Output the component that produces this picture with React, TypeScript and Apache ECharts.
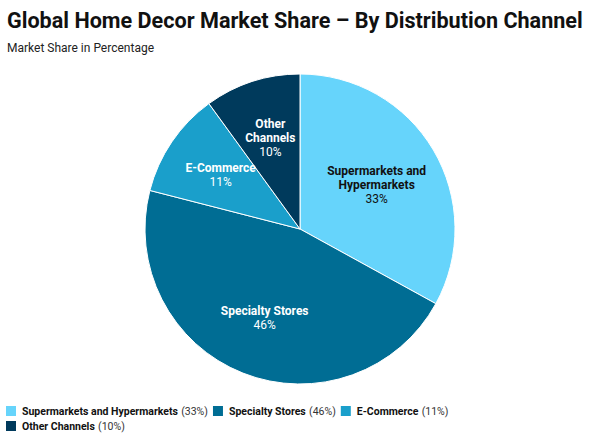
import React, { useEffect, useRef } from "react";
import * as echarts from "echarts";

const categories = ["Supermarkets and Hypermarkets", "Specialty Stores", "E-Commerce", "Other Channels"];
const labelLines = ["Supermarkets and\nHypermarkets", "Specialty Stores", "E-Commerce", "Other\nChannels"];
const shares = [33, 46, 11, 10];
const colors = ["#66d4fb", "#006d94", "#1a9fcb", "#003a5c"];
const labelColors = ["#111111", "#ffffff", "#ffffff", "#ffffff"];

export default function App() {
  const ref = useRef<HTMLDivElement>(null);
  useEffect(() => {
    const chart = echarts.init(ref.current!, null, { renderer: "svg" });
    const font = "Roboto";
    const main = categories.map((c, i) => ({ name: c, value: shares[i], itemStyle: { color: colors[i] } }));
    const lbl = categories.map((c, i) => ({
      name: c,
      value: shares[i],
      label: {
        formatter: `{b|${labelLines[i].split("\n").join("}\n{b|")}}\n{p|${shares[i]}%}`,
        rich: {
          b: { fontFamily: font, fontWeight: "bold", fontSize: 12, color: labelColors[i], lineHeight: 14 },
          p: { fontFamily: font, fontSize: 12, color: labelColors[i], lineHeight: 14 },
        },
        offset: i === 0 ? [-6, 5] : [0, 0],
      },
    }));
    chart.setOption({
      animation: false,
      title: {
        text: "Global Home Decor Market Share – By Distribution Channel",
        subtext: "Market Share in Percentage",
        left: 2,
        top: 4,
        itemGap: 11,
        textStyle: { fontFamily: font, fontWeight: "bold", fontSize: 21.6, color: "#111" },
        subtextStyle: { fontFamily: font, fontSize: 12, color: "#222" },
      },
      legend: {
        left: 0,
        top: 404,
        width: 480,
        padding: [0, 4],
        itemWidth: 12,
        itemHeight: 12,
        itemGap: 1,
        icon: "rect",
        data: categories,
        formatter: (name: string) => {
          const i = categories.indexOf(name);
          return `{n|${name}} {v|(${shares[i]}%)}{g|}`;
        },
        textStyle: {
          rich: {
            n: { fontFamily: font, fontWeight: "bold", fontSize: 10.5, color: "#111", lineHeight: 12 },
            v: { fontFamily: font, fontSize: 10.5, color: "#333", lineHeight: 12 },
            g: { width: 2, lineHeight: 12 },
          },
        },
      },
      series: [
        {
          type: "pie",
          center: [300, 229],
          radius: [0, 155],
          startAngle: 90,
          clockwise: true,
          silent: true,
          label: { show: false },
          labelLine: { show: false },
          itemStyle: { borderColor: "#ffffff", borderWidth: 1 },
          data: main,
        },
        {
          type: "pie",
          center: [300, 229],
          radius: [0, 186],
          startAngle: 90,
          clockwise: true,
          silent: true,
          itemStyle: { color: "rgba(0,0,0,0)", borderWidth: 0 },
          label: { show: true, position: "inside", align: "center" },
          labelLine: { show: false },
          data: lbl,
        },
      ],
    });
    return () => chart.dispose();
  }, []);
  return <div ref={ref} style={{ position: "absolute", left: 0, top: 0, width: 600, height: 445 }} />;
}
